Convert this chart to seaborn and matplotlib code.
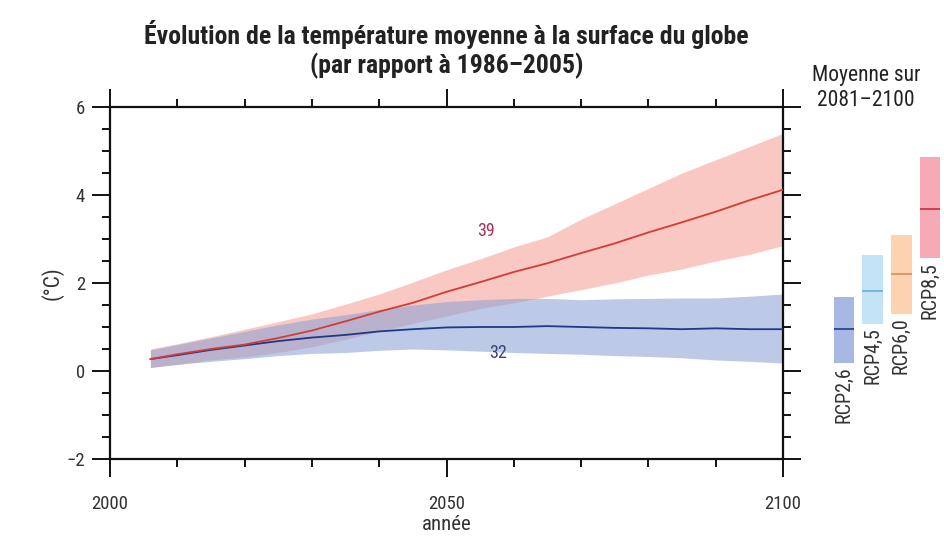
import matplotlib
matplotlib.use("Agg")
import matplotlib.pyplot as plt
from matplotlib.ticker import MultipleLocator
import seaborn as sns
import pandas as pd

# Projected global mean surface temperature change (°C, relative to 1986–2005)
years = [2006, 2010, 2015, 2020, 2025, 2030, 2035, 2040, 2045, 2050,
         2055, 2060, 2065, 2070, 2075, 2080, 2085, 2090, 2095, 2100]

rcp85_mean = [0.27, 0.38, 0.50, 0.60, 0.75, 0.92, 1.13, 1.35, 1.55, 1.80,
              2.02, 2.25, 2.45, 2.68, 2.90, 3.15, 3.38, 3.62, 3.88, 4.12]
rcp85_high = [0.50, 0.62, 0.78, 0.95, 1.12, 1.30, 1.52, 1.75, 2.02, 2.30,
              2.55, 2.82, 3.05, 3.45, 3.80, 4.15, 4.50, 4.80, 5.10, 5.40]
rcp85_low = [0.08, 0.15, 0.25, 0.32, 0.42, 0.55, 0.72, 0.90, 1.08, 1.25,
             1.42, 1.55, 1.70, 1.85, 2.00, 2.18, 2.32, 2.50, 2.65, 2.85]

rcp26_mean = [0.27, 0.36, 0.48, 0.58, 0.68, 0.76, 0.82, 0.90, 0.95, 0.99,
              1.00, 1.00, 1.02, 1.00, 0.98, 0.97, 0.95, 0.97, 0.95, 0.95]
rcp26_high = [0.48, 0.60, 0.75, 0.90, 1.05, 1.18, 1.28, 1.40, 1.50, 1.58,
              1.62, 1.65, 1.65, 1.62, 1.64, 1.65, 1.66, 1.66, 1.70, 1.75]
rcp26_low = [0.08, 0.15, 0.22, 0.28, 0.35, 0.40, 0.42, 0.47, 0.50, 0.48,
             0.45, 0.42, 0.40, 0.38, 0.35, 0.33, 0.30, 0.25, 0.22, 0.18]

# Number of models used for each scenario
n_models_85 = "39"
n_models_26 = "32"

# 2081–2100 averages per scenario
scenarios = ["RCP2,6", "RCP4,5", "RCP6,0", "RCP8,5"]
avg_mean = [0.95, 1.81, 2.20, 3.68]
avg_low = [0.18, 1.07, 1.30, 2.56]
avg_high = [1.69, 2.63, 3.10, 4.87]

fill_colors = ["#a7b8e2", "#c3e3f6", "#fcd2b1", "#f6aab6"]
line_colors = ["#24489a", "#6cb4dc", "#d8975a", "#d82f4a"]

sns.set_theme(style="white")
plt.rcParams["font.family"] = ["DejaVu Sans Condensed", "Roboto Condensed",
                               "Open Sans Condensed", "DejaVu Sans"]
plt.rcParams["font.stretch"] = "condensed"
plt.rcParams["axes.unicode_minus"] = True

fig = plt.figure(figsize=(9.44, 5.39), dpi=100)
ax = fig.add_axes([110 / 944, 1 - 459 / 539, (783 - 110) / 944, (459 - 107) / 539])

df = pd.DataFrame({
    "année": years * 2,
    "temp": rcp26_mean + rcp85_mean,
    "scen": ["RCP2,6"] * len(years) + ["RCP8,5"] * len(years),
})

# Uncertainty ranges
ax.fill_between(years, rcp85_low, rcp85_high, color="#f8a49c", alpha=0.6, lw=0, zorder=1)
ax.fill_between(years, rcp26_low, rcp26_high, color="#869fd6", alpha=0.55, lw=0, zorder=2)

sns.lineplot(data=df, x="année", y="temp", hue="scen",
             palette={"RCP2,6": "#1c3a86", "RCP8,5": "#d63a36"},
             linewidth=1.3, legend=False, ax=ax, zorder=3)

ax.text(2055.8, 3.19, n_models_85, color="#a8305a", fontsize=13,
        ha="center", va="center")
ax.text(2057.6, 0.41, n_models_26, color="#3a4478", fontsize=13,
        ha="center", va="center")

ax.set_xlim(2000, 2100)
ax.set_ylim(-2, 6)
ax.xaxis.set_major_locator(MultipleLocator(50))
ax.xaxis.set_minor_locator(MultipleLocator(10))
ax.yaxis.set_major_locator(MultipleLocator(2))
ax.yaxis.set_minor_locator(MultipleLocator(0.5))
ax.tick_params(which="both", direction="out", top=True, right=True,
               bottom=True, left=True, color="#111111", width=1.4,
               labelsize=13.5, labelcolor="#333333")
ax.tick_params(which="major", length=13, pad=5)
ax.tick_params(which="minor", length=6)
ax.tick_params(axis="x", which="major", pad=13)
for s in ax.spines.values():
    s.set_linewidth(1.6)
    s.set_color("#111111")

ax.set_xlabel("année", fontsize=15, color="#333333", labelpad=1.5)
ax.set_ylabel("(°C)", fontsize=15.5, color="#333333", labelpad=2)
ax.set_title("Évolution de la température moyenne à la surface du globe\n"
             "(par rapport à 1986–2005)", fontsize=18.5, fontweight="bold",
             color="#222222", pad=24, linespacing=1.2)

# 2081–2100 averages, sharing the temperature scale
ax2 = fig.add_axes([828 / 944, 1 - 459 / 539, (944 - 828) / 944, (459 - 107) / 539])
ax2.set_ylim(-2, 6)
ax2.set_xlim(-0.56, 3.49)
heights = [h - l for h, l in zip(avg_high, avg_low)]
ax2.bar(range(len(scenarios)), heights, bottom=avg_low, width=0.73,
        color=fill_colors, linewidth=0)
for i, (m, c) in enumerate(zip(avg_mean, line_colors)):
    ax2.hlines(m, i - 0.365, i + 0.365, color=c, linewidth=1.3)
    ax2.text(i, avg_low[i] - 0.08, scenarios[i], rotation=90, ha="center",
             va="top", fontsize=14.5, color="#333333")
ax2.axis("off")

fig.text(866 / 944, 1 - 88 / 539, "Moyenne sur\n2081–2100", ha="center",
         va="center", fontsize=15.5, color="#222222", linespacing=1.25)

fig.savefig("out.png", dpi=100, facecolor="white")
